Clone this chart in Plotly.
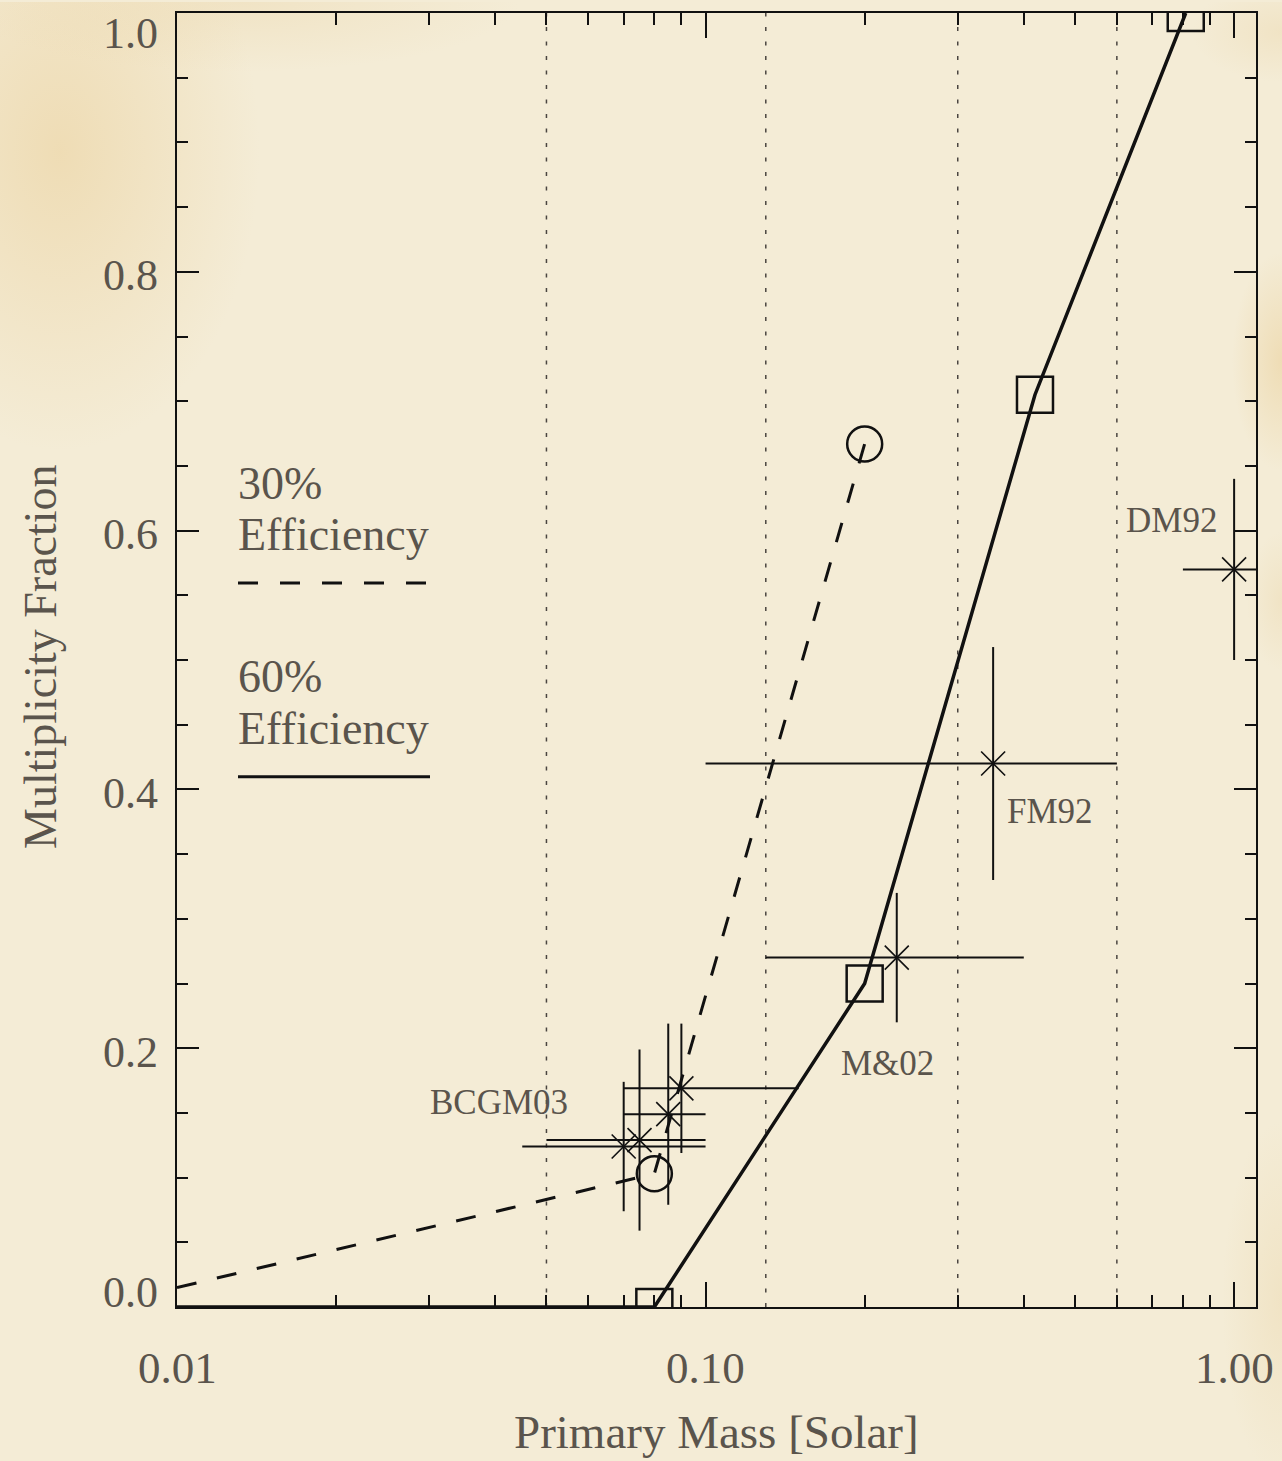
import math
import base64
import plotly.graph_objects as go

# ---------------- data ----------------
# 60% efficiency model (solid line + squares)
MASS_60 = [0.01, 0.08, 0.20, 0.42, 0.81]
FRAC_60 = [0.0, 0.0, 0.25, 0.705, 1.0]
# 30% efficiency model (dashed line + circles)
MASS_30 = [0.01, 0.08, 0.20]
FRAC_30 = [0.015, 0.103, 0.667]

# observed multiplicity fractions
OBS_MASS = [0.070, 0.075, 0.085, 0.090, 0.23, 0.35, 1.00]
OBS_MASS_LO = [0.045, 0.050, 0.070, 0.070, 0.13, 0.10, 0.80]
OBS_MASS_HI = [0.100, 0.100, 0.100, 0.150, 0.40, 0.60, 1.25]
OBS_FRAC = [0.124, 0.129, 0.149, 0.169, 0.27, 0.42, 0.57]
OBS_FRAC_ERR = [0.05, 0.07, 0.07, 0.05, 0.05, 0.09, 0.07]

# reference labels
REF_LABELS = ["BCGM03", "M&02", "FM92", "DM92"]
REF_LABEL_MASS = [0.0407, 0.221, 0.448, 0.760]
REF_LABEL_FRAC = [0.158, 0.188, 0.383, 0.608]

# vertical dotted boundaries
BOUNDS = [0.05, 0.13, 0.30, 0.60]

X_TICKS = [0.01, 0.1, 1.0]
X_TICK_TEXT = ["0.01", "0.10", "1.00"]
X_MINOR = [m * d for d in (0.01, 0.1) for m in range(2, 10)]
Y_TICKS = [0.0, 0.2, 0.4, 0.6, 0.8, 1.0]
Y_TICK_TEXT = ["0.0", "0.2", "0.4", "0.6", "0.8", "1.0"]
Y_MINOR = [i * 0.05 for i in range(21)]

# ---------------- style ----------------
W, H = 1282, 1461
ML, MR, MT, MB = 177, 26, 11, 154
PW, PH = W - ML - MR, H - MT - MB
SERIF = "Liberation Serif, Times New Roman, serif"
TXT = "#5a544c"
INK = "#111111"

def px(xp):
    return (xp - ML) / PW

def py(yp):
    return (MT + PH - yp) / PH

fig = go.Figure()

# dotted vertical boundaries
bx, by = [], []
for b in BOUNDS:
    bx += [b, b, None]
    by += [0, 1, None]
fig.add_trace(go.Scatter(x=bx, y=by, mode="lines",
                         line=dict(color="#4a4540", width=1.5, dash="4px,10.5px"),
                         hoverinfo="skip", showlegend=False))

# 30% model
fig.add_trace(go.Scatter(x=MASS_30, y=FRAC_30, mode="lines",
                         line=dict(color=INK, width=3, dash="20px,21px"),
                         showlegend=False))
fig.add_trace(go.Scatter(x=MASS_30[1:], y=FRAC_30[1:], mode="markers",
                         marker=dict(symbol="circle-open", size=35, color=INK,
                                     line=dict(color=INK, width=2.5)),
                         showlegend=False))

# 60% model
fig.add_trace(go.Scatter(x=MASS_60, y=FRAC_60, mode="lines",
                         line=dict(color=INK, width=3.5), showlegend=False))
fig.add_trace(go.Scatter(x=MASS_60[1:], y=FRAC_60[1:], mode="markers",
                         marker=dict(symbol="square-open", size=36, color=INK,
                                     line=dict(color=INK, width=2.5)),
                         showlegend=False))

# observations with error bars
err_plus = [hi - m for hi, m in zip(OBS_MASS_HI, OBS_MASS)]
err_minus = [m - lo for lo, m in zip(OBS_MASS_LO, OBS_MASS)]
fig.add_trace(go.Scatter(
    x=OBS_MASS, y=OBS_FRAC, mode="markers",
    marker=dict(symbol="x-thin-open", size=24, color=INK,
                line=dict(color=INK, width=1.6)),
    error_x=dict(type="data", array=err_plus, arrayminus=err_minus,
                 color=INK, thickness=2, width=0),
    error_y=dict(type="data", array=OBS_FRAC_ERR, color=INK, thickness=2, width=0),
    showlegend=False))

annotations = []
# reference labels
for t, m, f in zip(REF_LABELS, REF_LABEL_MASS, REF_LABEL_FRAC):
    annotations.append(dict(x=math.log10(m), y=f, xref="x", yref="y", text=t,
                            showarrow=False, xanchor="center", yanchor="middle",
                            font=dict(family=SERIF, size=35, color=TXT)))

# y tick labels
y_shift = {0.0: 15, 1.0: -20}
for v, t in zip(Y_TICKS, Y_TICK_TEXT):
    annotations.append(dict(x=0, y=v, xref="paper", yref="y", text=t,
                            showarrow=False, xanchor="right", yanchor="middle",
                            xshift=-17, yshift=y_shift.get(v, -4),
                            font=dict(family=SERIF, size=44, color=TXT)))
# x tick labels
for v, t in zip(X_TICKS, X_TICK_TEXT):
    annotations.append(dict(x=math.log10(v), y=0, xref="x", yref="paper", text=t,
                            showarrow=False, xanchor="center", yanchor="middle",
                            yshift=-61, font=dict(family=SERIF, size=45, color=TXT)))

# axis titles
annotations.append(dict(x=0.5, y=py(1432), xref="paper", yref="paper",
                        text="Primary Mass [Solar]", showarrow=False,
                        xanchor="center", yanchor="middle",
                        font=dict(family=SERIF, size=47, color=TXT)))
annotations.append(dict(x=px(40), y=py(656), xref="paper", yref="paper",
                        text="Multiplicity Fraction", showarrow=False, textangle=-90,
                        xanchor="center", yanchor="middle",
                        font=dict(family=SERIF, size=46, color=TXT)))

# legend text
for t, yp in [("30%", 482), ("Efficiency", 533), ("60%", 676), ("Efficiency", 727.5)]:
    annotations.append(dict(x=px(236), y=py(yp), xref="paper", yref="paper",
                            text=t, showarrow=False, xanchor="left", yanchor="middle",
                            font=dict(family=SERIF, size=46, color=TXT)))

shapes = [
    dict(type="line", xref="paper", yref="paper", x0=px(238), x1=px(430),
         y0=py(582), y1=py(582), line=dict(color=INK, width=3, dash="20px,22px")),
    dict(type="line", xref="paper", yref="paper", x0=px(238), x1=px(430),
         y0=py(776), y1=py(776), line=dict(color=INK, width=3)),
]

# parchment-like background
svg = f'''<svg xmlns="http://www.w3.org/2000/svg" width="{W}" height="{H}" viewBox="0 0 {W} {H}">
<defs>
<radialGradient id="g" cx="0.5" cy="0.5" r="0.5">
<stop offset="0" stop-color="#e8c98c" stop-opacity="0.45"/>
<stop offset="1" stop-color="#e8c98c" stop-opacity="0"/>
</radialGradient>
<radialGradient id="h" cx="0.5" cy="0.5" r="0.5">
<stop offset="0" stop-color="#e8cf9c" stop-opacity="0.3"/>
<stop offset="1" stop-color="#e8cf9c" stop-opacity="0"/>
</radialGradient>
</defs>
<rect width="{W}" height="{H}" fill="#f4ecd6"/>
<ellipse cx="60" cy="150" rx="200" ry="300" fill="url(#g)"/>
<ellipse cx="240" cy="0" rx="280" ry="70" fill="url(#h)"/>
<ellipse cx="1282" cy="360" rx="50" ry="110" fill="url(#g)"/>
<ellipse cx="1282" cy="600" rx="35" ry="70" fill="url(#h)"/>
<ellipse cx="1282" cy="30" rx="90" ry="50" fill="url(#h)"/>
<ellipse cx="1282" cy="1300" rx="60" ry="180" fill="url(#h)"/>
</svg>'''
src = "data:image/svg+xml;base64," + base64.b64encode(svg.encode()).decode()

fig.update_layout(
    width=W, height=H,
    margin=dict(l=ML, r=MR, t=MT, b=MB),
    paper_bgcolor="#f4ecd6",
    plot_bgcolor="rgba(0,0,0,0)",
    showlegend=False,
    annotations=annotations,
    shapes=shapes,
    images=[dict(source=src, xref="paper", yref="paper",
                 x=-ML / PW, y=1 + MT / PH, sizex=W / PW, sizey=H / PH,
                 xanchor="left", yanchor="top", sizing="stretch", layer="below")],
    xaxis=dict(type="log", range=[-2, math.log10(1.1)], showgrid=False, zeroline=False,
               showline=True, linecolor=INK, linewidth=2, mirror="allticks",
               ticks="inside", ticklen=25, tickwidth=1.5, tickcolor=INK,
               tickmode="array", tickvals=X_TICKS, showticklabels=False,
               minor=dict(tickmode="array", tickvals=X_MINOR, ticks="inside",
                          ticklen=12, tickwidth=1.5, tickcolor=INK, showgrid=False)),
    yaxis=dict(range=[0, 1], showgrid=False, zeroline=False,
               showline=True, linecolor=INK, linewidth=2, mirror="allticks",
               ticks="inside", ticklen=22, tickwidth=1.5, tickcolor=INK,
               tickmode="array", tickvals=Y_TICKS, showticklabels=False,
               minor=dict(tickmode="array", tickvals=Y_MINOR, ticks="inside",
                          ticklen=11, tickwidth=1.5, tickcolor=INK, showgrid=False)),
)

fig.write_html("out.html")
